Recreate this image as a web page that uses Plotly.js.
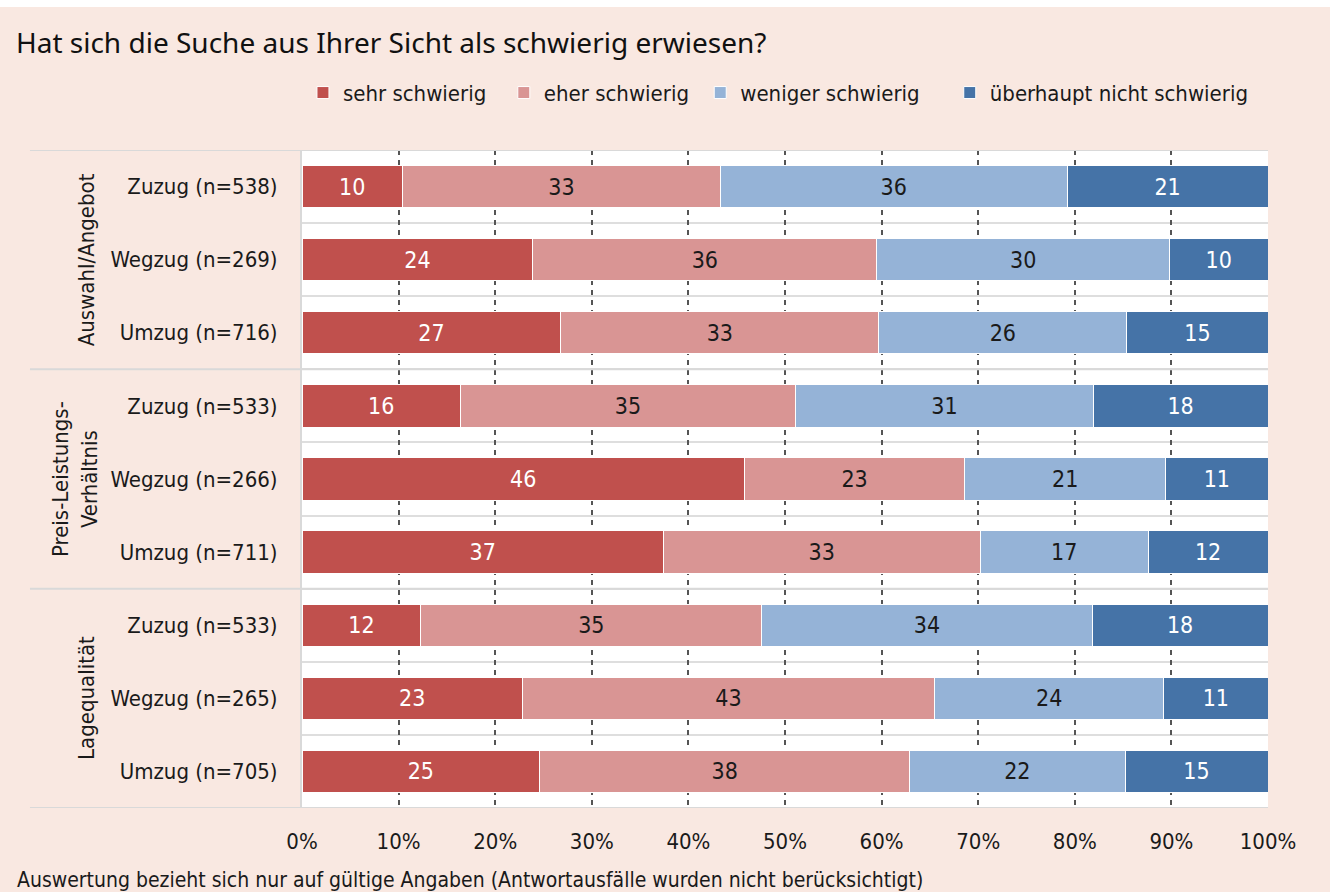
<!DOCTYPE html>
<html>
<head>
<meta charset="utf-8">
<script src="https://cdn.plot.ly/plotly-3.0.1.min.js"></script>
<style>
  body { margin: 0; }
  #graph { width: 1330px; height: 892px; }
</style>
</head>
<body>
<div id="graph"></div>
<script>
// rows top to bottom
const rows = ['Zuzug (n=538)', 'Wegzug (n=269)', 'Umzug (n=716)',
              'Zuzug (n=533)', 'Wegzug (n=266)', 'Umzug (n=711)',
              'Zuzug (n=533)', 'Wegzug (n=265)', 'Umzug (n=705)']
const groups = ['Auswahl/Angebot', 'Preis-Leistungs-<br>Verhältnis', 'Lagequalität']
const seriesNames = ['sehr schwierig', 'eher schwierig', 'weniger schwierig', 'überhaupt nicht schwierig']

const sehr = [10.4, 23.9, 26.8, 16.4, 45.8, 37.4, 12.3, 22.8, 24.6]
const eher = [32.9, 35.6, 32.9, 34.7, 22.8, 32.8, 35.3, 42.7, 38.3]
const weniger = [35.9, 30.3, 25.7, 30.8, 20.8, 17.4, 34.2, 23.7, 22.3]
const nicht = [20.8, 10.2, 14.6, 18.1, 10.6, 12.4, 18.2, 10.8, 14.8]
const xTicks = [0, 10, 20, 30, 40, 50, 60, 70, 80, 90, 100]

const colors = ['#c0504d', '#d99594', '#95b3d7', '#4573a7']
const textColors = ['#ffffff', '#1a1a1a', '#1a1a1a', '#ffffff']
const narrow = '"DejaVu Sans Condensed", "Liberation Sans Narrow", Roboto, sans-serif'
// extra room between legend entries
const pads = ['\u00a0\u00a0', '\u00a0', '\u00a0\u00a0\u00a0\u00a0', '']

const yPos = rows.map((r, i) => i)

const graphData = [sehr, eher, weniger, nicht].map((vals, k) => ({
    type: 'bar',
    orientation: 'h',
    name: seriesNames[k] + pads[k],
    x: vals,
    y: yPos,
    width: 0.58,
    marker: { color: colors[k], line: { color: '#ffffff', width: 1 } },
    texttemplate: '%{x:.0f}',
    textposition: 'inside',
    insidetextanchor: 'middle',
    textfont: { family: narrow, size: 23, color: textColors[k] },
    hoverinfo: 'skip'
}))

// group separator lines reaching into the label area
const shapes = [-0.5, 2.5, 5.5, 8.5].map(yv => ({
    type: 'line', xref: 'paper', yref: 'y',
    x0: -0.2816, x1: 1, y0: yv, y1: yv,
    line: { color: '#d9d9d9', width: 2 },
    layer: 'above'
}))
// white strip along the top
shapes.push({
    type: 'rect', xref: 'paper', yref: 'paper',
    x0: -0.32, x1: 1.08, y0: 1.2175, y1: 1.24,
    fillcolor: '#ffffff', line: { width: 0 }, layer: 'below'
})

const annotations = groups.map((g, i) => ({
    text: g,
    xref: 'paper', yref: 'y',
    x: g.includes('<br>') ? -0.265 : -0.238,
    y: i * 3 + 1,
    textangle: -90,
    showarrow: false,
    font: { family: narrow, size: 22, color: '#1a1a1a' }
}))
annotations.push({
    text: 'Auswertung bezieht sich nur auf gültige Angaben (Antwortausfälle wurden nicht berücksichtigt)',
    xref: 'paper', yref: 'paper',
    x: -0.297, y: -0.109,
    xanchor: 'left', yanchor: 'middle',
    showarrow: false,
    font: { family: narrow, size: 21, color: '#1a1a1a' }
})

const layout = {
    width: 1330,
    height: 892,
    margin: { l: 302, r: 62, t: 150, b: 84 },
    paper_bgcolor: '#f9e8e1',
    plot_bgcolor: '#ffffff',
    barmode: 'stack',
    showlegend: true,
    title: {
        text: 'Hat sich die Suche aus Ihrer Sicht als schwierig erwiesen?',
        font: { family: '"Noto Sans", "Open Sans", sans-serif', size: 28, color: '#111111' },
        xref: 'container', yref: 'container',
        x: 0.012, xanchor: 'left',
        y: 0.952, yanchor: 'middle'
    },
    legend: {
        orientation: 'h',
        x: 0.001, xanchor: 'left',
        y: 1.087, yanchor: 'middle',
        traceorder: 'normal',
        font: { family: narrow, size: 22, color: '#1a1a1a' },
        bgcolor: 'rgba(0,0,0,0)'
    },
    xaxis: {
        range: [0, 100],
        tickvals: xTicks,
        ticktext: xTicks.map(v => v + '%'),
        showgrid: true,
        gridcolor: '#555555',
        gridwidth: 2,
        griddash: '5px,5px',
        zeroline: false,
        showline: false,
        ticks: '',
        ticklabelstandoff: 18,
        tickfont: { family: narrow, size: 22, color: '#1a1a1a' },
        fixedrange: true
    },
    yaxis: {
        range: [8.5, -0.5],
        tickvals: yPos,
        ticktext: rows,
        showgrid: false,
        zeroline: false,
        showline: true,
        linecolor: '#d9d9d9',
        linewidth: 2,
        ticks: '',
        ticklabelstandoff: 18,
        tickfont: { family: narrow, size: 22, color: '#1a1a1a' },
        minor: { tick0: 0.5, dtick: 1, showgrid: true, gridcolor: '#dedede', gridwidth: 2 },
        fixedrange: true
    },
    shapes: shapes,
    annotations: annotations
}

Plotly.newPlot('graph', graphData, layout, { displayModeBar: false, staticPlot: true })
</script>
</body>
</html>
